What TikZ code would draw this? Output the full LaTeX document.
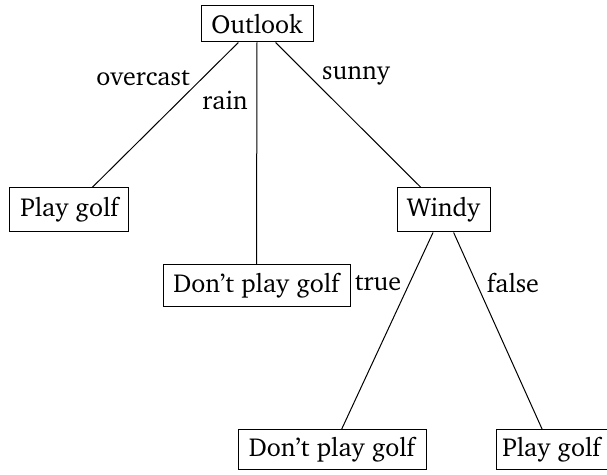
\documentclass[tikz,border=0pt]{standalone}
\usepackage[T1]{fontenc}
\usepackage{charter}
\begin{document}
\begin{tikzpicture}[x=0.5pt,y=-0.5pt,
  treebox/.style={draw,line width=0.5pt,inner sep=0pt,font=\fontsize{13}{15}\selectfont},
  lbl/.style={inner sep=0pt,font=\fontsize{13}{15}\selectfont},
  edge/.style={line width=0.5pt}]
\useasboundingbox (0,0) rectangle (607,475);
\node[treebox,minimum width=56pt,minimum height=18pt] (out) at (257,24) {Outlook};
\node[treebox,minimum width=59.5pt,minimum height=22pt] (pg1) at (69.5,210) {Play golf};
\node[treebox,minimum width=93.5pt,minimum height=21pt] (dp1) at (256.5,286) {Don't play golf};
\node[treebox,minimum width=46.5pt,minimum height=22pt] (win) at (443.5,210) {Windy};
\node[treebox,minimum width=94pt,minimum height=20pt] (dp2) at (332,450) {Don't play golf};
\node[treebox,minimum width=55.5pt,minimum height=20pt] (pg2) at (551.5,450) {Play golf};
\draw[edge] (out) -- (pg1);
\draw[edge] (out.south) -- (dp1.north);
\draw[edge] (out) -- (win);
\draw[edge] (win) -- (dp2);
\draw[edge] (win) -- (pg2);
\node[lbl] (l1) at (143,78) {overcast};
\node[lbl] (l2) at (225,100) {rain};
\node[lbl] (l3) at (356,76) {sunny};
\node[lbl] (l4) at (378,283) {true};
\node[lbl] (l5) at (513,283) {false};
\end{tikzpicture}
\end{document}
